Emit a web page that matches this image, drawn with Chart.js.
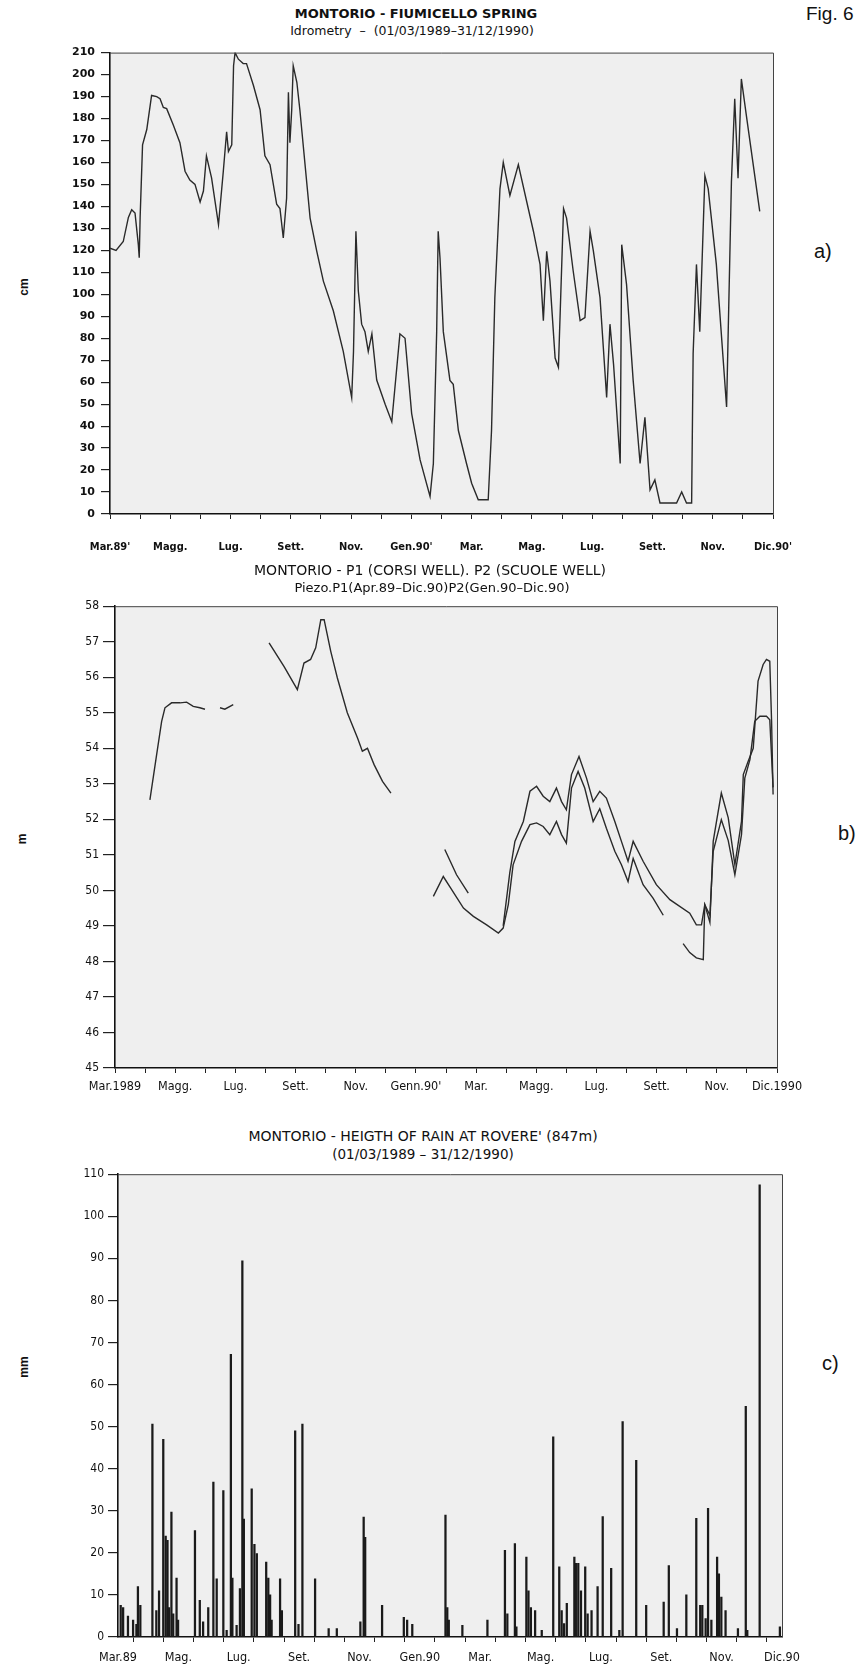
<!DOCTYPE html>
<html>
<head>
<meta charset="utf-8">
<script src="https://cdn.jsdelivr.net/npm/chart.js@4.4.1/dist/chart.umd.min.js"></script>
<style>
  body { margin:0; background:#fff; width:860px; height:1669px; position:relative; overflow:hidden;
         font-family:'DejaVu Sans',sans-serif; color:#111; }
  .t { position:absolute; left:0; width:860px; text-align:center; white-space:nowrap; }
  .tag { position:absolute; font-family:'Liberation Sans',Arial,sans-serif; font-size:20px; }
  .unit { position:absolute; font-family:'Liberation Sans',sans-serif; font-size:12px; font-weight:bold; transform:rotate(-90deg); }
  canvas { position:absolute; left:0; }
</style>
</head>
<body>
<div class="t" style="top:6px;left:-14px;font-weight:bold;font-size:13px">MONTORIO - FIUMICELLO SPRING</div>
<div class="t" style="top:23px;left:-18px;font-size:12.5px">Idrometry &nbsp;– &nbsp;(01/03/1989–31/12/1990)</div>
<div class="tag" style="left:806px;top:3px;font-size:19px">Fig. 6</div>
<div class="tag" style="left:814px;top:240px">a)</div>
<div class="unit" style="left:15px;top:280px">cm</div>
<canvas id="chartA" width="860" height="540" style="top:40px"></canvas>

<div class="t" style="top:562px;font-size:14px">MONTORIO - P1 (CORSI WELL). P2 (SCUOLE WELL)</div>
<div class="t" style="top:580px;left:2px;font-size:13px">Piezo.P1(Apr.89–Dic.90)P2(Gen.90–Dic.90)</div>
<div class="tag" style="left:838px;top:822px">b)</div>
<div class="unit" style="left:17px;top:832px">m</div>
<canvas id="chartB" width="860" height="510" style="top:595px"></canvas>

<div class="t" style="top:1128px;left:-7px;font-size:14px">MONTORIO - HEIGTH OF RAIN AT ROVERE' (847m)</div>
<div class="t" style="top:1146px;left:-7px;font-size:13.5px">(01/03/1989 – 31/12/1990)</div>
<div class="tag" style="left:822px;top:1352px">c)</div>
<div class="unit" style="left:13px;top:1360px">mm</div>
<canvas id="chartC" width="860" height="506" style="top:1163px"></canvas>

<script>
// x axis is months counted from 01/03/1989 (0) to 31/12/1990 (22)
const labelsA = ["Mar.89'", 'Magg.', 'Lug.', 'Sett.', 'Nov.', "Gen.90'", 'Mar.', 'Mag.', 'Lug.', 'Sett.', 'Nov.', "Dic.90'"];
const labelsB = ['Mar.1989', 'Magg.', 'Lug.', 'Sett.', 'Nov.', "Genn.90'", 'Mar.', 'Magg.', 'Lug.', 'Sett.', 'Nov.', 'Dic.1990'];
const labelsC = ['Mar.89', 'Mag.', 'Lug.', 'Set.', 'Nov.', 'Gen.90', 'Mar.', 'Mag.', 'Lug.', 'Set.', 'Nov.', 'Dic.90'];

// a) spring level, cm
const levelMonths = [0.0, 0.2, 0.44, 0.61, 0.72, 0.83, 0.94, 0.97, 1.0, 1.08, 1.22, 1.38, 1.55, 1.66, 1.77, 1.88, 2.1, 2.32, 2.49, 2.65, 2.82, 2.99, 3.1, 3.2, 3.37, 3.6, 3.76, 3.87, 3.93, 4.04, 4.1, 4.15, 4.26, 4.42, 4.53, 4.76, 4.98, 5.14, 5.31, 5.53, 5.64, 5.75, 5.86, 5.92, 5.97, 6.03, 6.08, 6.2, 6.3, 6.64, 6.86, 7.08, 7.41, 7.74, 8.02, 8.08, 8.16, 8.24, 8.35, 8.46, 8.57, 8.69, 8.85, 9.13, 9.35, 9.62, 9.79, 10.01, 10.29, 10.62, 10.73, 10.84, 10.89, 10.95, 11.06, 11.28, 11.39, 11.56, 11.83, 12.0, 12.22, 12.55, 12.66, 12.77, 12.94, 13.05, 13.27, 13.55, 13.83, 14.05, 14.27, 14.38, 14.49, 14.6, 14.77, 14.88, 15.05, 15.15, 15.37, 15.6, 15.76, 15.93, 16.04, 16.26, 16.48, 16.59, 16.71, 16.93, 16.98, 17.14, 17.36, 17.59, 17.75, 17.92, 18.08, 18.25, 18.8, 18.97, 19.13, 19.3, 19.35, 19.46, 19.57, 19.74, 19.85, 20.12, 20.46, 20.62, 20.73, 20.84, 20.95, 21.12, 21.56];
const levelCm = [121, 120, 124, 135, 138.5, 137, 122.6, 116.6, 135, 168, 175, 190.5, 190, 189, 185, 184.5, 177, 169, 156, 152, 150, 142, 147, 163, 153, 131.7, 156, 174, 165, 168, 204, 210, 207, 205, 205, 195, 184, 163, 159, 141, 139, 125.6, 143.7, 192, 169, 184, 204, 196.5, 184, 134.7, 119.6, 106, 92.5, 74, 53, 74, 128.7, 101.5, 86.4, 83, 74, 82, 61, 50, 42, 82, 80, 45.7, 24.6, 8, 23, 83, 128.7, 116.6, 83, 60.8, 59, 38, 23, 14, 6.5, 6.5, 38, 98.5, 148, 160, 145, 159, 142, 128.7, 113.6, 88, 119.6, 106, 71, 66.8, 139, 134.7, 110.6, 88, 89.4, 128.7, 119.6, 98.5, 53, 86.4, 68, 23, 122.6, 104.5, 60.8, 23, 44, 11, 15.5, 5, 5, 10, 5, 5, 73, 113.6, 83, 154, 148, 113.6, 48.7, 151, 189, 152.8, 198, 181, 137.7];

// b) piezometric levels, m (null = gap in record)
const p1Months = [1.16, 1.38, 1.55, 1.66, 1.88, 2.16, 2.38, 2.6, 2.82, 2.99, 3.2, 3.49, 3.65, 3.93, 4.5, 5.12, 5.62, 6.06, 6.28, 6.5, 6.67, 6.84, 6.95, 7.17, 7.39, 7.72, 8.06, 8.22, 8.39, 8.61, 8.89, 9.17, 10.0, 10.96, 11.35, 11.74, 12.3, 12.9, 13.12, 13.29, 13.57, 13.79, 14.01, 14.23, 14.45, 14.67, 14.84, 15.0, 15.17, 15.42, 15.67, 15.89, 16.11, 16.33, 16.61, 16.83, 17.05, 17.22, 17.55, 17.99, 18.44, 19.1, 19.32, 19.49, 19.6, 19.77, 19.88, 19.99, 20.15, 20.38, 20.6, 20.82, 20.88, 21.04, 21.21, 21.37, 21.54, 21.65, 21.76, 21.82, 21.87];
const p1Level = [52.55, 53.8, 54.76, 55.14, 55.28, 55.28, 55.3, 55.18, 55.14, 55.1, null, 55.14, 55.1, 55.23, null, 56.97, 56.3, 55.65, 56.4, 56.5, 56.83, 57.62, 57.62, 56.73, 55.98, 55.0, 54.29, 53.92, 54.0, 53.54, 53.07, 52.74, null, 51.15, 50.44, 49.92, null, 49.0, 50.5, 51.38, 51.94, 52.79, 52.93, 52.65, 52.5, 52.88, 52.5, 52.27, 53.26, 53.77, 53.16, 52.5, 52.79, 52.6, 51.94, 51.38, 50.82, 51.38, 50.82, 50.16, 49.74, 49.36, 49.03, 49.03, 49.6, 49.1, 51.38, 51.94, 52.74, 52.04, 50.72, 51.94, 53.26, 53.63, 54.0, 55.89, 56.36, 56.5, 56.45, 54.76, 52.7];
const p2Months = [10.58, 10.91, 11.13, 11.58, 11.91, 12.35, 12.74, 12.9, 13.07, 13.23, 13.51, 13.79, 14.01, 14.23, 14.45, 14.67, 14.84, 15.0, 15.17, 15.39, 15.61, 15.89, 16.11, 16.33, 16.61, 16.83, 17.05, 17.22, 17.55, 17.88, 18.22, 18.5, 18.88, 19.1, 19.32, 19.55, 19.6, 19.77, 19.88, 20.15, 20.38, 20.6, 20.82, 20.93, 21.1, 21.26, 21.43, 21.65, 21.76, 21.87];
const p2Level = [49.83, 50.39, 50.1, 49.5, 49.27, 49.03, 48.8, 48.94, 49.6, 50.72, 51.38, 51.85, 51.9, 51.8, 51.57, 51.94, 51.57, 51.33, 52.88, 53.35, 52.88, 51.94, 52.3, 51.75, 51.1, 50.72, 50.25, 50.9, 50.16, 49.78, 49.3, null, 48.5, 48.25, 48.1, 48.05, 49.6, 49.3, 51.1, 51.99, 51.4, 50.44, 51.57, 53.16, 53.68, 54.76, 54.9, 54.9, 54.8, 52.9];

// c) daily rain, mm
const rainMonths = [0.09, 0.17, 0.33, 0.5, 0.61, 0.66, 0.74, 1.14, 1.27, 1.36, 1.5, 1.58, 1.64, 1.69, 1.77, 1.83, 1.94, 1.99, 2.55, 2.71, 2.82, 2.99, 3.16, 3.27, 3.49, 3.6, 3.74, 3.79, 3.93, 4.04, 4.12, 4.17, 4.43, 4.52, 4.6, 4.91, 4.98, 5.04, 5.09, 5.37, 5.43, 5.87, 5.98, 6.11, 6.53, 6.98, 7.25, 8.03, 8.14, 8.19, 8.75, 9.47, 9.58, 9.75, 10.85, 10.91, 10.96, 11.41, 12.24, 12.82, 12.9, 13.15, 13.2, 13.53, 13.6, 13.68, 13.82, 14.04, 14.42, 14.62, 14.7, 14.78, 14.87, 15.12, 15.17, 15.25, 15.34, 15.48, 15.56, 15.69, 15.89, 16.06, 16.34, 16.61, 16.72, 17.17, 17.5, 18.08, 18.25, 18.52, 18.83, 19.16, 19.29, 19.36, 19.47, 19.55, 19.66, 19.85, 19.91, 19.99, 20.13, 20.54, 20.8, 20.85, 21.26, 21.93];
const rainMm = [7.5, 7, 5, 4, 3, 12, 7.5, 50.6, 6.3, 11, 47, 24, 23, 7, 29.7, 5.5, 14, 4, 25.3, 8.7, 3.6, 7, 36.8, 13.8, 34.8, 1.6, 67.2, 14, 2.8, 11.5, 89.4, 28, 35.2, 22, 19.8, 17.8, 14, 10, 4, 13.8, 6.3, 49, 3, 50.6, 13.8, 2, 2, 3.6, 28.5, 23.7, 7.5, 4.7, 4, 3, 29, 7, 4, 2.8, 4, 20.6, 5.5, 22.2, 2.4, 19, 11, 7, 6.3, 1.6, 47.6, 16.7, 6.3, 3.2, 8, 19, 17.5, 17.5, 11, 16.7, 5.5, 6.3, 12, 28.6, 16.3, 1.6, 51.2, 42, 7.5, 8.3, 17, 2, 10, 28.2, 7.5, 7.5, 4.4, 30.6, 4, 19, 15, 9.5, 6.3, 2, 54.8, 1.6, 107.5, 2.4];

const monthTicks = Array.from({ length: 23 }, (_, i) => i);
const zip = (xs, ys) => xs.map((x, i) => ({ x, y: ys[i] }));
const narrow = "'DejaVu Sans Condensed', 'DejaVu Sans', sans-serif";
const wide = "'DejaVu Sans', sans-serif";

const paper = {
  id: 'paper',
  beforeDraw(chart) {
    const { ctx, chartArea: a } = chart;
    ctx.save();
    ctx.fillStyle = '#efefef';
    ctx.fillRect(a.left, a.top, a.right - a.left, a.bottom - a.top);
    ctx.restore();
  },
  afterDraw(chart) {
    const { ctx, chartArea: a } = chart;
    ctx.save();
    ctx.strokeStyle = '#444';
    ctx.lineWidth = 1;
    ctx.beginPath();
    ctx.moveTo(a.left, a.top + 0.5);
    ctx.lineTo(a.right + 0.5, a.top + 0.5);
    ctx.lineTo(a.right + 0.5, a.bottom);
    ctx.stroke();
    ctx.restore();
  }
};

function xAxis(labels, h, pad, font) {
  return {
    type: 'linear', min: 0, max: 22,
    afterBuildTicks: s => { s.ticks = monthTicks.map(v => ({ value: v })); },
    afterFit: s => { s.height = h; },
    ticks: { autoSkip: false, maxRotation: 0, padding: pad, color: '#111', font,
             callback: v => (v % 2 === 0 ? labels[v / 2] : '') },
    grid: { drawOnChartArea: false, tickLength: 5, color: '#222' },
    border: { color: '#111', width: 1.6 }
  };
}

function yAxis(min, max, step, w, tick, pad, font) {
  return {
    min, max,
    afterFit: s => { s.width = w; },
    ticks: { stepSize: step, padding: pad, color: '#111', font },
    grid: { drawOnChartArea: false, tickLength: tick, color: '#222', lineWidth: 1.2 },
    border: { color: '#111', width: 1.6 }
  };
}

const common = {
  responsive: false, animation: false, devicePixelRatio: 1,
  plugins: { legend: { display: false }, tooltip: { enabled: false } }
};

new Chart(document.getElementById('chartA'), {
  type: 'line',
  data: { datasets: [{ data: zip(levelMonths, levelCm), borderColor: '#2a2a2a', borderWidth: 1.4, pointRadius: 0, tension: 0 }] },
  options: {
    ...common,
    layout: { padding: { left: 0, right: 87, top: 10, bottom: 26 } },
    scales: {
      x: xAxis(labelsA, 40, 22, { family: narrow, size: 11, weight: 'bold' }),
      y: yAxis(0, 210, 10, 110, 9, 6, { family: wide, size: 11, weight: 'bold' })
    }
  },
  plugins: [paper]
});

new Chart(document.getElementById('chartB'), {
  type: 'line',
  data: { datasets: [
    { label: 'P1', data: zip(p1Months, p1Level), borderColor: '#2a2a2a', borderWidth: 1.4, pointRadius: 0, tension: 0, spanGaps: false },
    { label: 'P2', data: zip(p2Months, p2Level), borderColor: '#2a2a2a', borderWidth: 1.4, pointRadius: 0, tension: 0, spanGaps: false }
  ] },
  options: {
    ...common,
    layout: { padding: { left: 0, right: 83, top: 10, bottom: 0 } },
    scales: {
      x: xAxis(labelsB, 37, 6, { family: narrow, size: 12.5 }),
      y: yAxis(45, 58, 1, 115, 12, 4, { family: narrow, size: 12 })
    }
  },
  plugins: [paper]
});

new Chart(document.getElementById('chartC'), {
  type: 'bar',
  data: { datasets: [{ data: zip(rainMonths, rainMm), backgroundColor: '#1a1a1a', barThickness: 1.6, grouped: false }] },
  options: {
    ...common,
    layout: { padding: { left: 0, right: 78, top: 10, bottom: 0 } },
    scales: {
      x: { ...xAxis(labelsC, 32, 8, { family: narrow, size: 12.5 }), offset: false },
      y: yAxis(0, 110, 10, 118, 10, 4, { family: narrow, size: 12 })
    }
  },
  plugins: [paper]
});
</script>
</body>
</html>
